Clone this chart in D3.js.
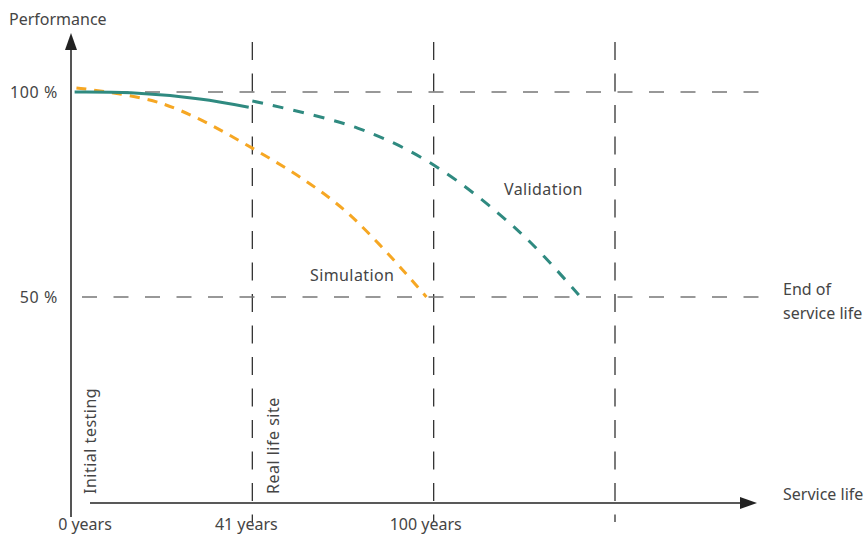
<!DOCTYPE html>
<html>
<head>
<meta charset="utf-8">
<script src="https://cdn.jsdelivr.net/npm/d3@7"></script>
<style>
  body { margin: 0; background: #fff; }
  text { font-family: "Noto Sans", sans-serif; font-size: 16px; fill: #454545; }
</style>
</head>
<body>
<div id="chart"></div>
<script>
// milestones along the service-life axis (schematic, evenly spaced)
var milestones = [0, 1, 2, 3];
var milestoneLabels = ["0 years", "41 years", "100 years", ""];
var levels = [100, 50];
var levelLabels = ["100 %", "50 %"];

// curves: x in milestone units, y in % performance
var validationTestX = [0.02, 0.33, 0.71, 0.98];
var validationTestY = [100, 99.8, 98.3, 96.3];
var validationX = [1.0, 1.58, 2.0, 2.48, 2.81];
var validationY = [97.8, 91.2, 82.2, 65.6, 50.0];
var simulationX = [0.03, 0.5, 1.0, 1.5, 1.96];
var simulationY = [101, 97.2, 86.3, 71.5, 50.0];

var width = 866, height = 537;
var teal = "#2f8a80", orange = "#f6a723";

var svg = d3.select("#chart").append("svg")
  .attr("width", width)
  .attr("height", height);

var x = d3.scaleLinear().domain([0, 3]).range([71, 615]);
var y = d3.scaleLinear().domain([0, 100]).range([502, 92]);

// reference dashed lines
svg.selectAll(".vgrid").data(milestones.slice(1)).enter().append("line")
  .attr("x1", function (d) { return x(d); })
  .attr("x2", function (d) { return x(d); })
  .attr("y1", 42).attr("y2", 522)
  .attr("stroke", "#333").attr("stroke-width", 1.3)
  .attr("stroke-dasharray", "18,13.5");

svg.selectAll(".hgrid").data(levels).enter().append("line")
  .attr("x1", 82).attr("x2", 762)
  .attr("y1", function (d) { return y(d); })
  .attr("y2", function (d) { return y(d); })
  .attr("stroke", "#777").attr("stroke-width", 1.5)
  .attr("stroke-dasharray", "15,16.5");

// axes
svg.append("line").attr("x1", 71).attr("x2", 71).attr("y1", 517).attr("y2", 48)
  .attr("stroke", "#555").attr("stroke-width", 2);
svg.append("path").attr("d", "M65,50L71,33L77,50Z").attr("fill", "#222");

svg.append("line").attr("x1", 90).attr("x2", 742).attr("y1", 503).attr("y2", 503)
  .attr("stroke", "#222").attr("stroke-width", 1.5);
svg.append("path").attr("d", "M740,497L757,503L740,509Z").attr("fill", "#222");

// curves
var line = d3.line()
  .x(function (d) { return x(d[0]); })
  .y(function (d) { return y(d[1]); })
  .curve(d3.curveCatmullRom.alpha(0.5));

svg.append("path").datum(d3.zip(simulationX, simulationY))
  .attr("d", line).attr("fill", "none")
  .attr("stroke", orange).attr("stroke-width", 3)
  .attr("stroke-dasharray", "10,8");

svg.append("path").datum(d3.zip(validationTestX, validationTestY))
  .attr("d", line).attr("fill", "none")
  .attr("stroke", teal).attr("stroke-width", 3);

svg.append("path").datum(d3.zip(validationX, validationY))
  .attr("d", line).attr("fill", "none")
  .attr("stroke", teal).attr("stroke-width", 3)
  .attr("stroke-dasharray", "11,10");

// tick labels
var tickDx = [14, -6, -8, 0];
svg.selectAll(".xlab").data(milestones).enter().append("text")
  .attr("x", function (d, i) { return x(d) + tickDx[i]; })
  .attr("y", 530)
  .attr("text-anchor", "middle")
  .text(function (d, i) { return milestoneLabels[i]; });

svg.selectAll(".ylab").data(levels).enter().append("text")
  .attr("x", 58)
  .attr("y", function (d) { return y(d) + 6; })
  .attr("text-anchor", "end")
  .attr("letter-spacing", 0.6)
  .text(function (d, i) { return levelLabels[i]; });

// annotations
svg.append("text").attr("x", 9).attr("y", 25).text("Performance");
svg.append("text").attr("x", 783).attr("y", 500).text("Service life");
svg.append("text").attr("x", 783).attr("y", 295).text("End of");
svg.append("text").attr("x", 783).attr("y", 319).text("service life");
svg.append("text").attr("x", 504).attr("y", 195).attr("letter-spacing", 0.4).text("Validation");
svg.append("text").attr("x", 310).attr("y", 281).attr("letter-spacing", 0.4).text("Simulation");

svg.append("text").attr("transform", "translate(96,494) rotate(-90)")
  .attr("letter-spacing", 0.5).text("Initial testing");
svg.append("text").attr("transform", "translate(279,494) rotate(-90)")
  .attr("letter-spacing", 0.5).text("Real life site");
</script>
</body>
</html>
